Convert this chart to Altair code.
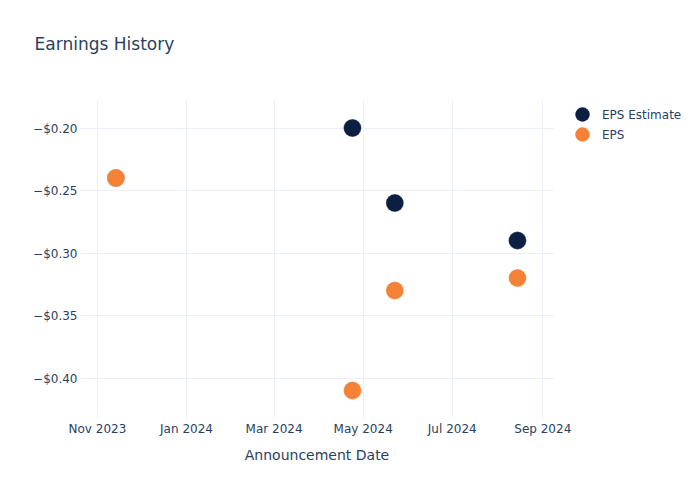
import altair as alt
import pandas as pd

dates = ["2023-11-14", "2024-04-24", "2024-05-23", "2024-08-15"]
eps_estimate = [-0.24, -0.20, -0.26, -0.29]
eps_actual = [-0.24, -0.41, -0.33, -0.32]
series_names = ["EPS Estimate", "EPS"]
series_colors = ["#0c1f42", "#f58136"]
tick_dates = ["2023-11-01", "2024-01-01", "2024-03-01", "2024-05-01", "2024-07-01", "2024-09-01"]
y_ticks = [-0.40, -0.35, -0.30, -0.25, -0.20]

rows = []
for d, e in zip(dates, eps_estimate):
    rows.append({"date": d, "value": e, "series": series_names[0], "order": 0})
for d, a in zip(dates, eps_actual):
    rows.append({"date": d, "value": a, "series": series_names[1], "order": 1})
df = pd.DataFrame(rows)

def ms(s):
    return int(pd.Timestamp(s, tz="UTC").timestamp() * 1000)

tick_vals = [ms(t) for t in tick_dates]
x_domain = [ms("2023-10-20T10:00:00"), ms("2024-09-08T08:00:00")]

label_color = "#2a3f5f"
grid_color = "#ebf0f8"
font = "DejaVu Sans"

chart = alt.Chart(df).mark_circle(size=320, opacity=1, stroke="#ffffff", strokeWidth=0.3).encode(
    x=alt.X("date:T",
            scale=alt.Scale(type="utc", domain=x_domain),
            axis=alt.Axis(values=tick_vals, labelExpr="utcFormat(datum.value, '%b %Y')",
                          title="Announcement Date", titleFontSize=14, titleFontWeight="normal",
                          titleColor=label_color, titleFont=font, titlePadding=14,
                          labelFont=font, labelFontSize=12, labelColor=label_color,
                          labelPadding=5, grid=True, gridColor=grid_color, gridWidth=1,
                          domain=False, ticks=False, labelFlush=False)),
    y=alt.Y("value:Q",
            scale=alt.Scale(domain=[-0.432, -0.1776], nice=False, zero=False),
            axis=alt.Axis(values=y_ticks, format="$.2f", title=None,
                          labelFont=font, labelFontSize=12, labelColor=label_color,
                          labelPadding=3, grid=True, gridColor=grid_color, gridWidth=1,
                          domain=False, ticks=False)),
    color=alt.Color("series:N",
                    scale=alt.Scale(domain=series_names, range=series_colors),
                    legend=alt.Legend(title=None, orient="none", legendX=495, legendY=7,
                                      symbolType="circle", symbolSize=210,
                                      labelFont=font, labelFontSize=12,
                                      labelColor=label_color, rowPadding=5,
                                      symbolStrokeWidth=0, labelOffset=12)),
    order=alt.Order("order:Q"),
).properties(
    width=473,
    height=318,
    title=alt.TitleParams("Earnings History", anchor="start", font=font,
                          fontSize=17, fontWeight="normal", color=label_color,
                          dx=2, dy=-42),
    autosize=alt.AutoSizeParams(type="none"),
    padding={"left": 80, "top": 100, "right": 147, "bottom": 82},
    background="white",
).configure_view(stroke=None)

chart.save("out.html", embed_options={"renderer": "svg", "actions": False})
